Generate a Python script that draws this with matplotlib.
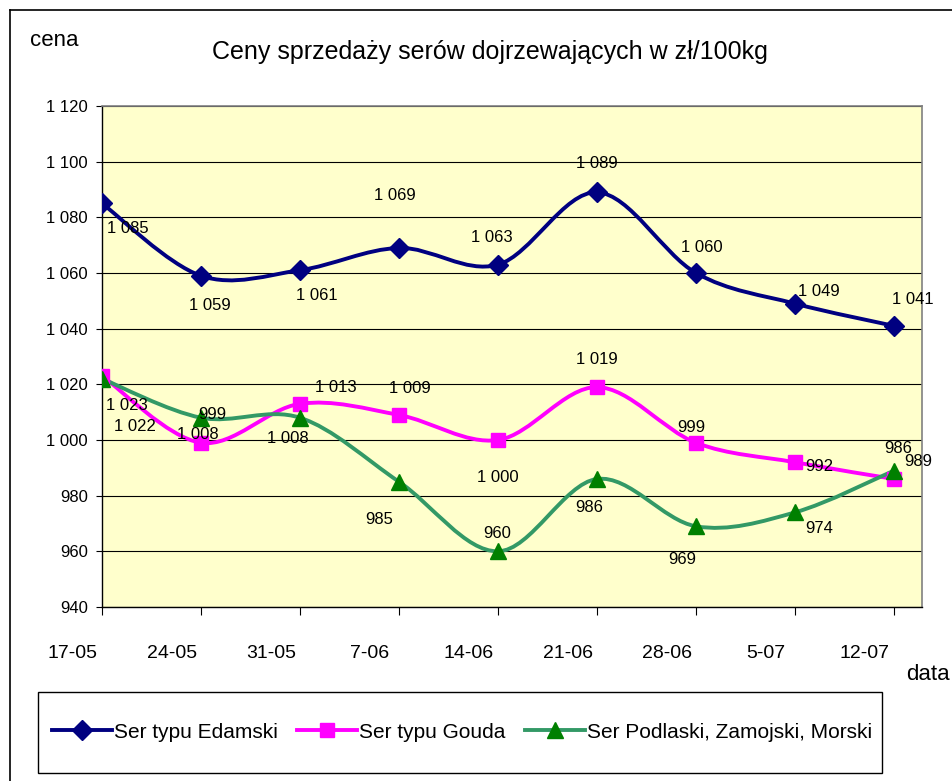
import numpy as np
import matplotlib
matplotlib.use("Agg")
import matplotlib.pyplot as plt
from matplotlib.path import Path
from matplotlib.patches import PathPatch, Rectangle
from matplotlib.lines import Line2D
import matplotlib.transforms as mtransforms

plt.rcParams['font.family'] = ['Liberation Sans', 'DejaVu Sans']

# data
dates = ["17-05", "24-05", "31-05", "7-06", "14-06", "21-06", "28-06", "5-07", "12-07"]
edamski = [1085, 1059, 1061, 1069, 1063, 1089, 1060, 1049, 1041]
gouda = [1023, 999, 1013, 1009, 1000, 1019, 999, 992, 986]
podlaski = [1022, 1008, 1008, 985, 960, 986, 969, 974, 989]
names = ["Ser typu Edamski", "Ser typu Gouda", "Ser Podlaski, Zamojski, Morski"]
yticks = [940, 960, 980, 1000, 1020, 1040, 1060, 1080, 1100, 1120]

# label offsets in pixels (dx, dy, y up)
off_edam = [(26, -25), (9, -30), (17, -25), (-4, 52), (-6, 27), (0, 29), (6, 25), (24, 12), (19, 26)]
off_gouda = [(25, -30), (11, 28), (36, 16), (11, 26), (0, -37), (0, 28), (-5, 15), (24, -4), (4, 30)]
off_podl = [(33, -48), (-3, -17), (-12, -21), (-20, -38), (-1, 18), (-8, -29), (-14, -33), (24, -16), (24, 9)]

W, H = 953, 781
fig = plt.figure(figsize=(W / 100, H / 100), dpi=100)


def fx(px):
    return px / W


def fy(py):
    return 1 - py / H


ax = fig.add_axes([fx(102), fy(607), fx(922) - fx(102), fy(106) - fy(607)])
ax.set_facecolor("#FFFFCC")
ax.set_xlim(0, 8.283)
ax.set_ylim(940, 1120)

x = np.arange(len(dates))


def smooth_path(xs, ys):
    # excel-like smoothed line: bezier through the points
    pts = np.column_stack([xs, ys]).astype(float)
    verts = [pts[0]]
    codes = [Path.MOVETO]
    n = len(pts)
    for i in range(n - 1):
        p0 = pts[i - 1] if i > 0 else pts[i]
        p1 = pts[i]
        p2 = pts[i + 1]
        p3 = pts[i + 2] if i + 2 < n else pts[i + 1]
        c1 = p1 + (p2 - p0) / 6
        c2 = p2 - (p3 - p1) / 6
        verts += [c1, c2, p2]
        codes += [Path.CURVE4] * 3
    return Path(verts, codes)


series = [
    (edamski, "#000080", "#000080", "D", 10, off_edam),
    (gouda, "#FF00FF", "#FF00FF", "s", 10, off_gouda),
    (podlaski, "#339966", "#008000", "^", 11, off_podl),
]

for ys, lc, mc, mk, ms, offs in series:
    ax.add_patch(PathPatch(smooth_path(x, ys), fill=False, edgecolor=lc, lw=2.8, zorder=3))
    ax.plot(x, ys, linestyle="none", marker=mk, ms=ms, color=mc, zorder=4)
    for xi, yi, (dx, dy) in zip(x, ys, offs):
        lab = "{:,}".format(yi).replace(",", " ")
        ax.annotate(lab, (xi, yi), xytext=(dx * 0.72, dy * 0.72), textcoords="offset points",
                    ha="center", va="center", fontsize=12, zorder=5)

ax.set_yticks(yticks)
ax.set_yticklabels(["{:,}".format(v).replace(",", " ") for v in yticks], fontsize=12)
ax.yaxis.grid(True, color="black", lw=0.8)
ax.set_axisbelow(True)
ax.set_xticks(x)
ax.set_xticklabels(dates, fontsize=14)
ax.tick_params(axis="y", length=4, pad=6)
ax.tick_params(axis="x", length=6, pad=21)
shift = mtransforms.ScaledTranslation(-0.29, 0, fig.dpi_scale_trans)
for lab in ax.get_xticklabels():
    lab.set_transform(lab.get_transform() + shift)

for s in ["top", "right"]:
    ax.spines[s].set_color("#808080")
    ax.spines[s].set_linewidth(1.2)
for s in ["left", "bottom"]:
    ax.spines[s].set_color("black")
    ax.spines[s].set_linewidth(1.0)

fig.text(fx(490), fy(52), "Ceny sprzedaży serów dojrzewających w zł/100kg",
         ha="center", va="center", fontsize=18)
fig.text(fx(54), fy(40), "cena", ha="center", va="center", fontsize=16)
fig.text(fx(928), fy(675), "data", ha="center", va="center", fontsize=16)

# outer chart frame
fig.add_artist(Line2D([fx(10), 1], [fy(10), fy(10)], color="black", lw=1.2))
fig.add_artist(Line2D([fx(10), fx(10)], [fy(10), 0], color="black", lw=1.2))

# legend box
fig.add_artist(Rectangle((fx(38), fy(773)), fx(882) - fx(38), fy(692) - fy(773),
                         transform=fig.transFigure, fill=False, edgecolor="black", lw=1.0))
handles = [Line2D([], [], color=lc, lw=2.8, marker=mk, ms=ms, markerfacecolor=mc, markeredgecolor=mc)
           for _, lc, mc, mk, ms, _ in series]
fig.legend(handles, names, loc="center", bbox_to_anchor=(fx(462), fy(732)), ncol=3,
           frameon=False, fontsize=15, handlelength=2.9, handletextpad=0.1, columnspacing=0.9)

fig.savefig("out.png", dpi=100)
